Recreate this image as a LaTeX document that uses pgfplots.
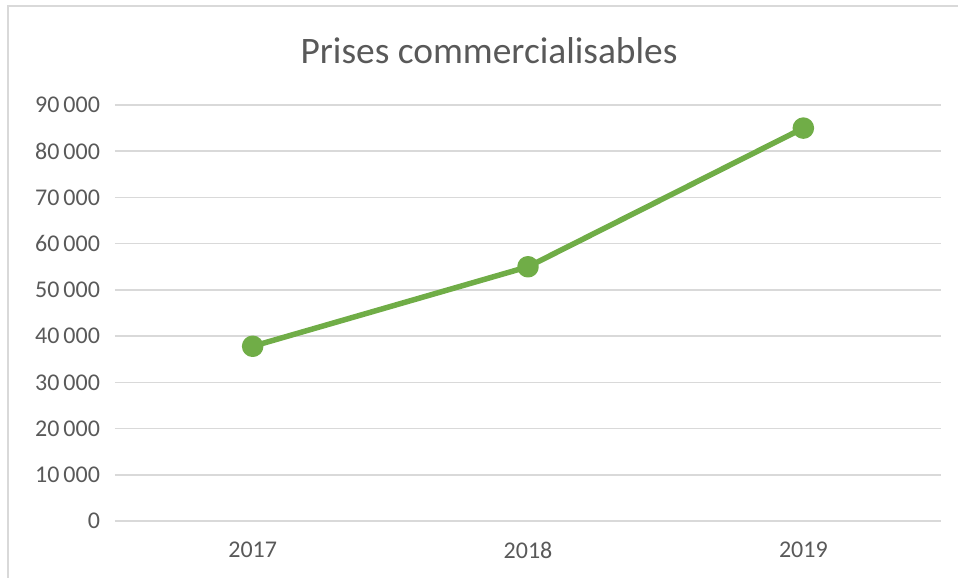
\documentclass[border=0pt]{standalone}
\usepackage{fontspec}
\setmainfont{Carlito}
\usepackage{pgfplots}
\pgfplotsset{compat=1.18}
\definecolor{lgreen}{HTML}{70AD47}
\definecolor{gridc}{HTML}{D9D9D9}
\definecolor{txt}{HTML}{595959}
\begin{document}
\begin{tikzpicture}
\useasboundingbox (0,0) rectangle (479pt,289pt);
\draw[gridc, line width=0.75pt] (4pt,0) -- (4pt,286pt) -- (479pt,286pt);
\node[txt, anchor=base, inner sep=0pt, font=\fontsize{18.7}{22}\selectfont] at (244.5pt,257pt) {Prises commercialisables};
\begin{axis}[
  at={(57.5pt,28.5pt)}, anchor=south west,
  scale only axis, width=413pt, height=208pt,
  xmin=-0.5, xmax=2.5, ymin=0, ymax=90000,
  xtick={0,1,2}, xticklabels={2017,2018,2019},
  ytick={0,10000,20000,30000,40000,50000,60000,70000,80000,90000},
  scaled y ticks=false,
  /pgf/number format/.cd, 1000 sep={\,}, assume math mode=true, /pgfplots/.cd,
  axis line style={draw=none},
  major tick length=0pt,
  ymajorgrids, grid style={gridc, line width=0.8pt},
  tick label style={txt, font=\fontsize{12}{14}\selectfont},
  yticklabel style={xshift=-4pt},
  xticklabel style={yshift=-7pt},
  clip=false,
]
\addplot[lgreen, line width=2.75pt, line join=round, mark=*, mark size=4pt, mark options={fill=lgreen, draw=none, solid}] coordinates {(0,37800) (1,55000) (2,85000)};
\end{axis}
\end{tikzpicture}
\end{document}
